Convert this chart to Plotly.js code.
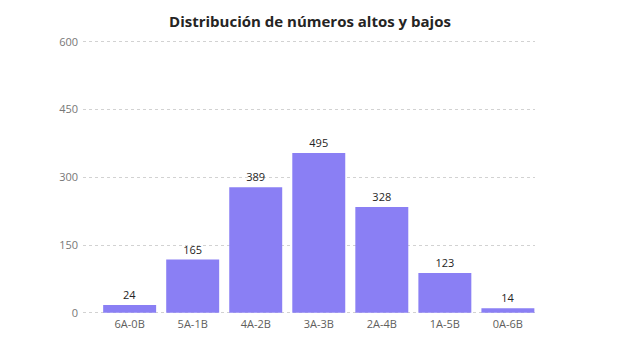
<!DOCTYPE html>
<html>
<head>
<meta charset="utf-8">
<script src="https://cdn.plot.ly/plotly-3.0.1.min.js"></script>
<style>html,body{margin:0;padding:0;background:#fff;}#chart{width:620px;height:356px;}</style>
</head>
<body>
<div id="chart"></div>
<script>
const categories = ["6A-0B","5A-1B","4A-2B","3A-3B","2A-4B","1A-5B","0A-6B"];
const counts = [24,165,389,495,328,123,14];
const yTickLabels = ["0","150","300","450","600"];
// the reference's axis labels are drawn at 1.4x scale relative to the bar values
const axisScale = 1.4;

const trace = {
  type: "bar",
  x: categories,
  y: counts,
  marker: {color: "#8A7FF4"},
  width: 0.84,
  text: counts.map(String),
  textposition: "outside",
  cliponaxis: false,
  textfont: {family: "Open Sans, Noto Sans, sans-serif", size: 11, color: "#252423"},
  hoverinfo: "x+y"
};

const layout = {
  width: 620, height: 356,
  margin: {l: 83, r: 85, t: 37, b: 40, pad: 0},
  paper_bgcolor: "#fff", plot_bgcolor: "#fff",
  title: {text: "<b>Distribución de números altos y bajos</b>", x: 0.5, xanchor: "center", y: 0.94, yanchor: "middle",
          font: {family: "Open Sans, Noto Sans, sans-serif", size: 15, color: "#252423"}},
  showlegend: false,
  xaxis: {type: "category", range: [-0.74, 6.43], showgrid: false, zeroline: false, showline: false,
          ticks: "", tickfont: {family: "Open Sans, Noto Sans, sans-serif", size: 11, color: "#605E5C"}},
  yaxis: {range: [-10, 600*axisScale + 15], tickvals: yTickLabels.map(v => Number(v)*axisScale), ticktext: yTickLabels,
          showgrid: true, gridcolor: "#D2D2D2", griddash: "dot", gridwidth: 1, zeroline: false, showline: false,
          ticks: "", ticklabelstandoff: 4,
          tickfont: {family: "Open Sans, Noto Sans, sans-serif", size: 11, color: "#777777"}}
};

Plotly.newPlot("chart", [trace], layout, {displayModeBar: false, staticPlot: true});
</script>
</body>
</html>
